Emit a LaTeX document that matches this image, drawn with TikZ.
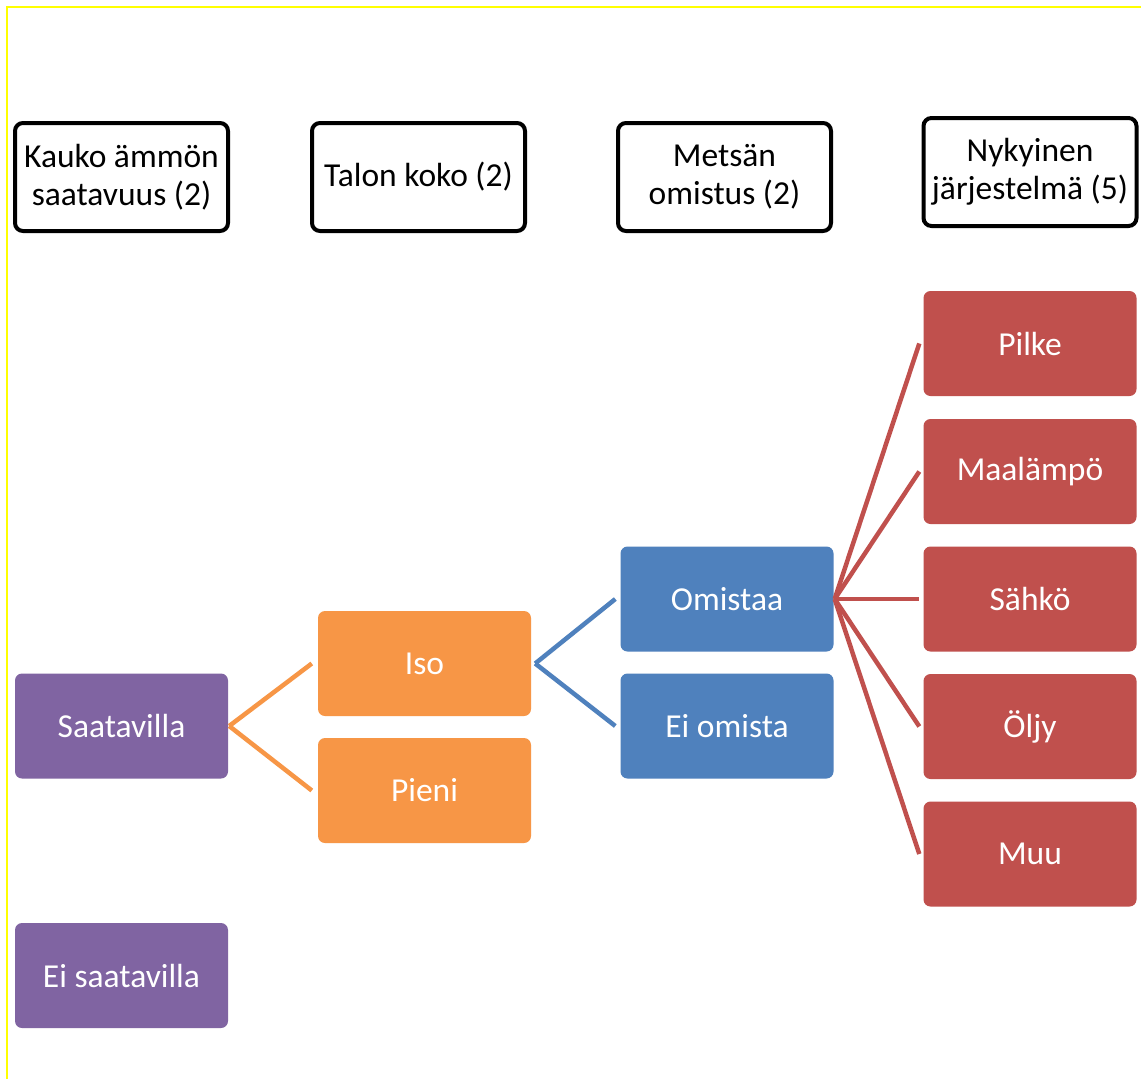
\documentclass[tikz,border=0pt]{standalone}
\usepackage{fontspec}
\setmainfont{Carlito}
\definecolor{cpurple}{HTML}{8064A2}
\definecolor{corange}{HTML}{F79646}
\definecolor{cblue}{HTML}{4F81BD}
\definecolor{cred}{HTML}{C0504D}
\definecolor{cyell}{HTML}{FFFF00}
\begin{document}
\begin{tikzpicture}[x=1pt,y=-1pt,
  hdr/.style={draw=black, line width=4pt, rounded corners=8pt, fill=white,
    minimum width=213pt, minimum height=108pt, align=center, inner sep=0pt,
    font=\fontsize{33.5}{38}\selectfont},
  cbox/.style={rounded corners=7pt, minimum width=213pt, minimum height=105pt,
    text=white, inner sep=0pt, font=\fontsize{33.5}{38}\selectfont},
  pbox/.style={cbox, fill=cpurple},
  obox/.style={cbox, fill=corange},
  bbox/.style={cbox, fill=cblue},
  rbox/.style={cbox, fill=cred},
  oline/.style={draw=corange, line width=4.5pt},
  bline/.style={draw=cblue, line width=4.5pt},
  rline/.style={draw=cred, line width=4.5pt}]
\useasboundingbox (0,0) rectangle (1141,1079);
\fill[white] (0,0) rectangle (1141,1079);
\draw[cyell, line width=2pt] (7,1079) -- (7,6.5) -- (1141,6.5);

\node[hdr] (h1) at (121.5,177) {Kauko ämmön\\saatavuus (2)};
\node[hdr] (h2) at (418.5,177) {Talon koko (2)};
\node[hdr] (h3) at (724.5,177) {Metsän\\omistus (2)};
\node[hdr] (h4) at (1030,172) {Nykyinen\\järjestelmä (5)};

\node[pbox] (p1) at (121.5,726) {Saatavilla};
\node[pbox] (p2) at (121.5,975.5) {Ei saatavilla};

\node[obox] (o1) at (424.5,663.5) {Iso};
\node[obox] (o2) at (424.5,790.5) {Pieni};

\node[bbox] (b1) at (727,599) {Omistaa};
\node[bbox] (b2) at (727,726) {Ei omista};

\node[rbox] (r1) at (1030,343.5) {Pilke};
\node[rbox] (r2) at (1030,471.5) {Maalämpö};
\node[rbox] (r3) at (1030,599) {Sähkö};
\node[rbox] (r4) at (1030,726.5) {Öljy};
\node[rbox] (r5) at (1030,854) {Muu};

\draw[oline] ([xshift=1pt]p1.east) -- ([xshift=-6pt]o1.west);
\draw[oline] ([xshift=1pt]p1.east) -- ([xshift=-6pt]o2.west);
\draw[bline] ([xshift=4pt]o1.east) -- ([xshift=-5pt]b1.west);
\draw[bline] ([xshift=4pt]o1.east) -- ([xshift=-5pt]b2.west);
\foreach \r in {r1,r2,r3,r4,r5}
  \draw[rline] ([xshift=1pt]b1.east) -- ([xshift=-4pt]\r.west);
\end{tikzpicture}
\end{document}
